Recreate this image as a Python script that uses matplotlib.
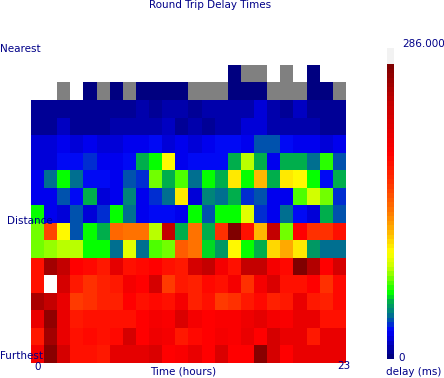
import numpy as np
import matplotlib
matplotlib.use("Agg")
import matplotlib.pyplot as plt
from matplotlib.colors import LinearSegmentedColormap, Normalize

N = np.nan   # no measurement (white)
L = -1.0     # lost / timeout (gray)

hours = list(range(24))
hour_labels = ["0", "23"]
vmax = 286.0

r01 = [N]*15 + [0, L, L, N, L, N, 0, N, N]
r02 = [N, N, L, N, 0, L, 0, L, 0, 0, 0, 0, L, L, L, 0, 0, 0, L, L, L, 0, 0, L]
r03 = [7, 7, 7, 6, 6, 7, 7, 8, 9, 8, 9, 11, 8, 10, 10, 9, 9, 20, 10, 8, 14, 8, 8, 7]
r04 = [7, 7, 14, 8, 8, 8, 9, 9, 9, 9, 14, 8, 9, 8, 10, 13, 19, 20, 11, 9, 10, 10, 8, 8]
r05 = [22, 22, 26, 19, 23, 18, 22, 24, 23, 30, 21, 24, 22, 26, 27, 30, 26, 38, 38, 30, 26, 25, 22, 26]
r06 = [22, 22, 31, 28, 35, 23, 26, 27, 54, 63, 103, 23, 31, 28, 28, 58, 87, 58, 25, 55, 57, 44, 68, 38]
r07 = [23, 44, 63, 44, 31, 30, 25, 38, 34, 78, 58, 75, 41, 63, 54, 110, 63, 122, 58, 110, 103, 66, 30, 54]
r08 = [23, 23, 38, 27, 57, 19, 23, 47, 23, 34, 41, 111, 20, 48, 41, 55, 32, 38, 25, 26, 75, 92, 80, 32]
r09 = [67, 26, 19, 38, 20, 33, 67, 43, 23, 30, 29, 23, 63, 38, 63, 67, 95, 34, 26, 41, 27, 20, 55, 37]
r10 = [80, 165, 106, 37, 67, 58, 150, 143, 143, 88, 248, 57, 143, 57, 172, 283, 190, 122, 248, 78, 200, 172, 172, 190]
r11 = [77, 82, 88, 88, 63, 63, 44, 95, 43, 75, 80, 155, 143, 61, 52, 103, 63, 57, 115, 128, 111, 51, 41, 41]
r12 = [190, 265, 248, 200, 195, 185, 222, 190, 195, 200, 190, 185, 235, 248, 210, 190, 248, 248, 210, 195, 286, 255, 200, 235]
r13 = [190, N, 235, 185, 172, 180, 185, 210, 200, 235, 167, 185, 180, 195, 190, 210, 172, 210, 230, 190, 190, 200, 172, 195]
r14 = [260, 248, 218, 167, 172, 180, 180, 200, 190, 195, 190, 210, 180, 190, 167, 172, 185, 195, 180, 185, 218, 185, 180, 195]
r15 = [218, 275, 218, 185, 190, 190, 190, 190, 200, 210, 205, 230, 210, 200, 203, 203, 213, 220, 210, 203, 218, 218, 190, 190]
r16 = [185, 265, 218, 190, 195, 190, 195, 235, 200, 213, 210, 185, 195, 200, 210, 203, 218, 200, 235, 218, 218, 185, 218, 218]
r17 = [210, 280, 235, 190, 190, 185, 222, 222, 222, 230, 198, 205, 218, 200, 230, 200, 200, 280, 235, 200, 218, 218, 218, 218]

rows = [r01, r02, r03, r04, r05, r06, r07, r08, r09, r10, r11, r12, r13, r14, r15, r16, r17]
data = np.array(rows, dtype=float)

stops = [
    (0.000, (0, 0, 128)),
    (0.091, (0, 0, 255)),
    (0.133, (0, 96, 160)),
    (0.154, (0, 128, 128)),
    (0.189, (0, 170, 80)),
    (0.220, (0, 255, 0)),
    (0.308, (200, 255, 0)),
    (0.360, (255, 255, 0)),
    (0.427, (255, 185, 0)),
    (0.500, (255, 120, 0)),
    (0.600, (255, 50, 0)),
    (0.700, (255, 0, 0)),
    (0.867, (200, 0, 0)),
    (1.000, (128, 0, 0)),
]
cmap = LinearSegmentedColormap.from_list(
    "delay", [(p, tuple(c / 255 for c in col)) for p, col in stops], N=64)
cmap.set_bad("white")
cmap.set_under("#808080")
cmap.set_over("#f2f2f2")
norm = Normalize(vmin=0, vmax=vmax)

W, H = 444, 378
fig = plt.figure(figsize=(W / 100, H / 100), dpi=100)

def px_axes(x0, y0, x1, y1):
    return fig.add_axes([x0 / W, 1 - y1 / H, (x1 - x0) / W, (y1 - y0) / H])

ax = px_axes(31, 65, 346, 363)
masked = np.ma.masked_invalid(data)
im = ax.imshow(masked, cmap=cmap, norm=norm, aspect="auto",
               interpolation="nearest", origin="upper")
ax.set_axis_off()

cax = px_axes(387, 48, 394, 359)
cb = fig.colorbar(im, cax=cax, extend="max", extendrect=True, extendfrac=0.055)
cb.outline.set_visible(False)
cb.set_ticks([])
cax.tick_params(length=0)

tc = "#000088"
fs = 7.5
def t(x, y, s, ha="left", va="center"):
    fig.text(x / W, 1 - y / H, s, ha=ha, va=va, color=tc, fontsize=fs,
             family="DejaVu Sans")

t(210, 5, "Round Trip Delay Times", ha="center")
t(0, 49, "Nearest")
t(7, 221, "Distance")
t(0, 356, "Furthest")
t(37.5, 367, hour_labels[0], ha="center")
t(183, 371, "Time (hours)", ha="center")
t(344, 366, hour_labels[1], ha="center")
t(402, 44, f"{vmax:.3f}")
t(398, 358, "0")
t(414, 372, "delay (ms)", ha="center")

fig.savefig("out.png", dpi=100)
